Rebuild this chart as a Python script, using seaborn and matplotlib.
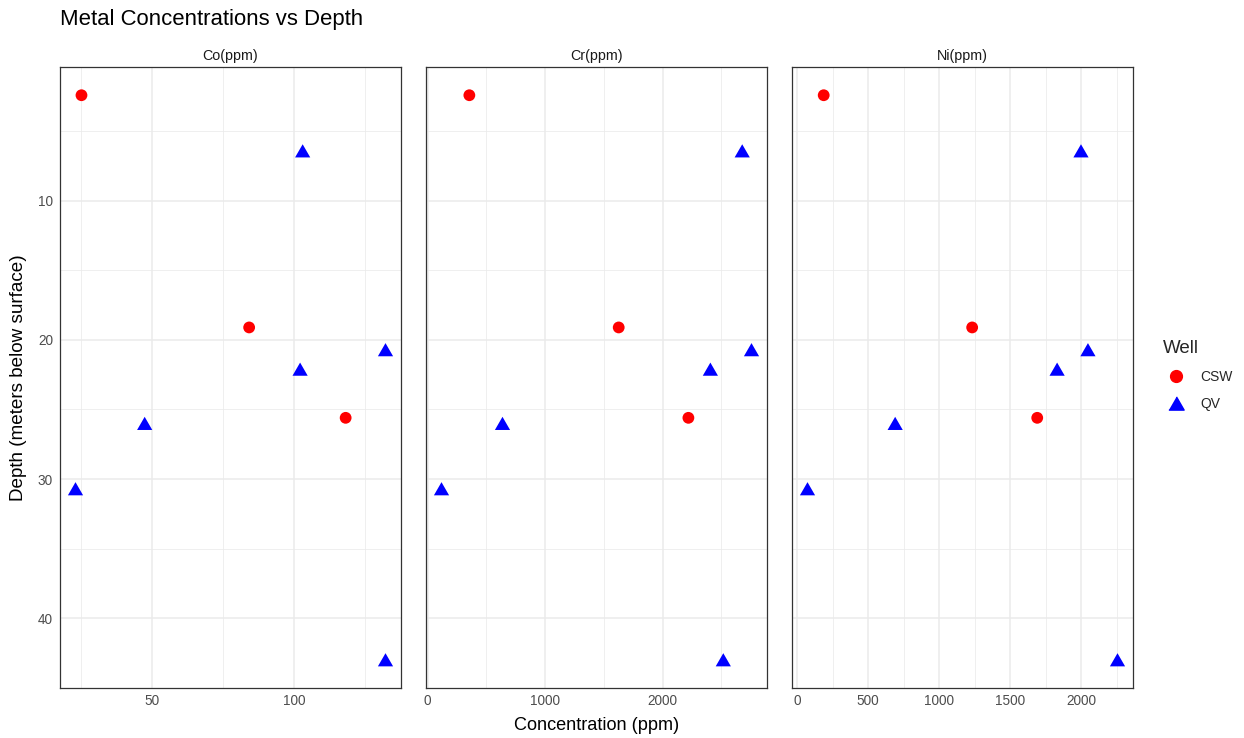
import numpy as np
import pandas as pd
import matplotlib
matplotlib.use("Agg")
import matplotlib.pyplot as plt
import seaborn as sns
from matplotlib.lines import Line2D
from matplotlib.ticker import FixedLocator

# ---- data ----
well = ["CSW", "CSW", "CSW", "QV", "QV", "QV", "QV", "QV", "QV"]
depth = [2.4, 19.1, 25.6, 6.4, 20.7, 22.1, 26.0, 30.7, 43.0]
co_ppm = [25.3, 84.2, 118.1, 103.0, 132.1, 102.1, 47.5, 23.2, 132.1]
cr_ppm = [356, 1627, 2220, 2678, 2757, 2407, 638, 119, 2517]
ni_ppm = [187, 1232, 1690, 1998, 2047, 1830, 690, 73, 2255]
metals = ["Co(ppm)", "Cr(ppm)", "Ni(ppm)"]
wells = ["CSW", "QV"]
well_colors = {"CSW": "#FF0000", "QV": "#0000FF"}

major_x = {"Co(ppm)": [50, 100], "Cr(ppm)": [0, 1000, 2000],
           "Ni(ppm)": [0, 500, 1000, 1500, 2000]}
minor_x = {"Co(ppm)": [25, 75, 125], "Cr(ppm)": [500, 1500, 2500],
           "Ni(ppm)": [250, 750, 1250, 1750, 2250]}
major_y = [10, 20, 30, 40]
minor_y = [5, 15, 25, 35, 45]

wide = pd.DataFrame({"Well": well, "Depth": depth, "Co(ppm)": co_ppm,
                     "Cr(ppm)": cr_ppm, "Ni(ppm)": ni_ppm})
df = wide.melt(id_vars=["Well", "Depth"], value_vars=metals,
               var_name="Metal", value_name="Concentration")

sns.set_theme(style="white")
plt.rcParams["font.family"] = ["Liberation Sans", "DejaVu Sans"]

W, H = 1244, 738
fig = plt.figure(figsize=(W / 100, H / 100), dpi=100)

tri = [(-1, -0.866), (1, -0.866), (0, 0.866)]
markers = {"CSW": "o", "QV": tri}
sizes = {"CSW": 72, "QV": 120}

panel_left = [60, 426, 792]
panel_w = 341
top, bottom = 67, 688

def expand(vals):
    lo, hi = min(vals), max(vals)
    pad = 0.05 * (hi - lo)
    return lo - pad, hi + pad

ylo, yhi = expand(depth)
axes = []
for i, m in enumerate(metals):
    ax = fig.add_axes([panel_left[i] / W, 1 - bottom / H, panel_w / W, (bottom - top) / H])
    axes.append(ax)
    sub = df[df["Metal"] == m]
    sns.scatterplot(data=sub, x="Concentration", y="Depth", hue="Well", style="Well",
                    size="Well", palette=well_colors, markers=markers, sizes=sizes,
                    hue_order=wells, style_order=wells, size_order=wells,
                    linewidth=0, legend=False, ax=ax, zorder=3)
    xlo, xhi = expand(sub["Concentration"].tolist())
    ax.set_xlim(xlo, xhi)
    ax.set_ylim(yhi, ylo)
    ax.xaxis.set_major_locator(FixedLocator(major_x[m]))
    ax.xaxis.set_minor_locator(FixedLocator(minor_x[m]))
    ax.yaxis.set_major_locator(FixedLocator(major_y))
    ax.yaxis.set_minor_locator(FixedLocator(minor_y))
    ax.set_axisbelow(True)
    ax.grid(which="major", color="#EBEBEB", lw=1.1)
    ax.grid(which="minor", color="#EBEBEB", lw=0.55)
    ax.tick_params(which="both", length=0, labelsize=9.8, labelcolor="#4D4D4D")
    ax.tick_params(axis="x", pad=4)
    ax.tick_params(axis="y", pad=5)
    for s in ax.spines.values():
        s.set_visible(True)
        s.set_color("#333333")
        s.set_linewidth(0.9)
    ax.set_xlabel("")
    ax.set_ylabel("")
    if i > 0:
        ax.set_yticklabels([])
    ax.set_title(m, fontsize=10.3, color="#1A1A1A", pad=5)

axes[0].set_ylabel("Depth (meters below surface)", fontsize=13.6, color="#000000", labelpad=8)
fig.text((60 + 1133) / 2 / W, 1 - 725 / H, "Concentration (ppm)", ha="center", va="center",
         fontsize=13.1, color="#000000")
fig.text(60 / W, 1 - 19 / H, "Metal Concentrations vs Depth", ha="left", va="center",
         fontsize=15.9, color="#000000")

handles = [Line2D([], [], linestyle="none", marker=markers[w], color=well_colors[w],
                  markersize=(8.5 if w == "CSW" else 11)) for w in wells]
leg = fig.legend(handles, wells, title="Well", loc="upper left",
                 bbox_to_anchor=(1157 / W, 1 - 334 / H), frameon=False,
                 fontsize=10, title_fontsize=13.5, handletextpad=0.7,
                 labelspacing=0.95, borderaxespad=0)
leg._legend_box.align = "left"

fig.savefig("out.png", dpi=100, facecolor="white")
